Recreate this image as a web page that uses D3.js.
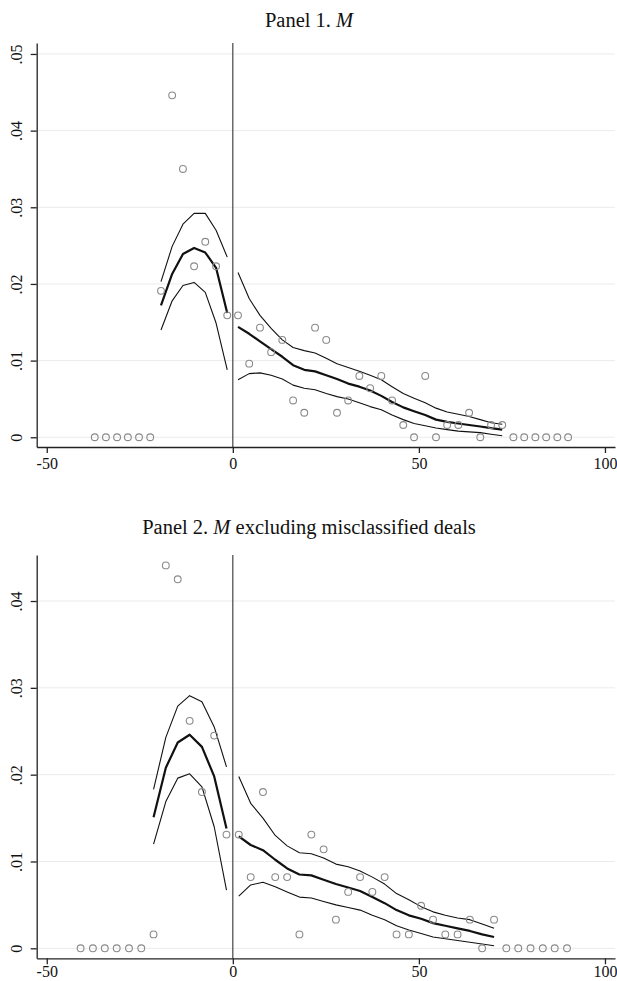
<!DOCTYPE html>
<html>
<head>
<meta charset="utf-8">
<script src="https://cdn.jsdelivr.net/npm/d3@7"></script>
<style>
  html, body { margin: 0; padding: 0; background: #fff; overflow: hidden; }
  svg { display: block; }
</style>
</head>
<body>
<script>
// ticks
var xTicks = [-50, 0, 50, 100];
var yTicks1 = [0, .01, .02, .03, .04, .05];
var yTicks2 = [0, .01, .02, .03, .04];

// panel 1 : binned shares
var p1BinX = [-37.1,-34.1,-31.1,-28.2,-25.2,-22.2,-19.3,-16.3,-13.4,-10.4,-7.4,-4.5,-1.5,
  1.4,4.4,7.3,10.3,13.3,16.2,19.2,22.1,25.1,28.0,31.0,34.0,36.9,39.9,42.8,45.8,48.7,
  51.7,54.6,57.6,60.6,63.5,66.5,69.4,72.4,75.4,78.3,81.3,84.2,87.2,90.1];
var p1Share = [0,0,0,0,0,0,.0191,.0446,.0350,.0223,.0255,.0223,.0159,
  .0159,.0096,.0143,.0111,.0127,.0048,.0032,.0143,.0127,.0032,.0048,.0080,.0064,.0080,.0048,.0016,0,
  .0080,0,.0016,.0016,.0032,0,.0016,.0016,0,0,0,0,0,0];

// panel 1 : fit left of cutoff
var p1LeftX = [-19.3,-16.3,-13.4,-10.4,-7.4,-4.5,-1.5];
var p1LeftFit = [.0172,.0213,.0239,.0247,.0241,.0221,.0162];
var p1LeftHi  = [.0203,.0249,.0278,.0292,.0292,.0270,.0235];
var p1LeftLo  = [.0140,.0178,.0198,.0202,.0189,.0149,.0088];

// panel 1 : fit right of cutoff
var p1RightX = [1.4,4.4,7.3,10.3,13.3,16.2,19.2,22.1,25.1,28.0,31.0,34.0,36.9,39.9,42.8,
  45.8,48.7,51.7,54.6,57.6,60.6,63.5,66.5,69.4,72.4];
var p1RightHi  = [.0215,.0181,.0159,.0142,.0127,.0117,.0113,.0110,.0103,.0096,.0091,.0086,.0081,
  .0075,.0066,.0057,.0051,.0045,.0038,.0033,.0030,.0027,.0023,.0019,.0017];
var p1RightFit = [.0144,.0135,.0125,.0115,.0105,.0094,.0088,.0086,.0081,.0076,.0070,.0066,.0061,
  .0054,.0046,.0039,.0034,.0029,.0023,.0020,.0018,.0016,.0014,.0012,.0010];
var p1RightLo  = [.0075,.0083,.0084,.0081,.0076,.0068,.0064,.0062,.0057,.0053,.0050,.0045,.0040,
  .0036,.0029,.0023,.0018,.0015,.0012,.0010,.0008,.0007,.0006,.0004,.0002];

// panel 2 : binned shares
var p2BinX = [-40.9,-37.6,-34.4,-31.2,-27.9,-24.6,-21.3,-18.0,-14.8,-11.6,-8.3,-5.0,-1.7,
  1.6,4.8,8.1,11.4,14.6,17.9,21.1,24.4,27.7,31.0,34.2,37.5,40.8,44.0,47.3,50.6,53.8,
  57.1,60.4,63.7,67.0,70.2,73.5,76.7,80.0,83.3,86.5,89.8];
var p2Share = [0,0,0,0,0,0,.0016,.0441,.0425,.0262,.0180,.0245,.0131,
  .0131,.0082,.0180,.0082,.0082,.0016,.0131,.0114,.0033,.0065,.0082,.0065,.0082,.0016,.0016,.0049,.0033,
  .0016,.0016,.0033,0,.0033,0,0,0,0,0,0];

var p2LeftX = [-21.3,-18.0,-14.8,-11.6,-8.3,-5.0,-1.7];
var p2LeftHi  = [.0183,.0243,.0279,.0291,.0284,.0255,.0209];
var p2LeftFit = [.0151,.0208,.0237,.0246,.0232,.0198,.0138];
var p2LeftLo  = [.0120,.0169,.0196,.0201,.0186,.0140,.0067];

var p2RightX = [1.6,4.8,8.1,11.4,14.6,17.9,21.1,24.4,27.7,31.0,34.2,37.5,40.8,44.0,47.3,
  50.6,53.8,57.1,60.4,63.7,67.0,70.2];
var p2RightHi  = [.0198,.0167,.0150,.0130,.0118,.0110,.0109,.0104,.0097,.0094,.0089,.0082,.0074,
  .0063,.0056,.0048,.0042,.0038,.0035,.0033,.0028,.0023];
var p2RightFit = [.0129,.0119,.0113,.0102,.0092,.0085,.0084,.0079,.0074,.0070,.0066,.0059,.0052,
  .0044,.0038,.0034,.0029,.0026,.0023,.0020,.0016,.0013];
var p2RightLo  = [.0060,.0073,.0076,.0071,.0065,.0059,.0058,.0054,.0050,.0047,.0044,.0038,.0033,
  .0026,.0021,.0017,.0013,.0011,.0009,.0007,.0005,.0003];

var W = 617, H = 981;
var serif = "'Liberation Serif', 'Times New Roman', Times, serif";

var svg = d3.select("body").append("svg")
    .attr("width", W)
    .attr("height", H);

var fmtY = d => d === 0 ? "0" : String(d).replace(/^0/, "");
var fmtX = d => String(d);

function zip(xs, ys) { return xs.map((x, i) => [x, ys[i]]); }

function drawPanel(p) {
  var x = d3.scaleLinear().domain([-52.7, 102.7]).range([p.left, p.right]);
  var y = d3.scaleLinear().domain(p.yDomain).range([p.bottom, p.top]);

  var g = svg.append("g");

  // title
  var t = g.append("text")
      .attr("x", 309)
      .attr("y", p.titleY)
      .attr("text-anchor", "middle")
      .style("font-family", serif)
      .style("font-size", "20.5px")
      .style("fill", "#111");
  t.append("tspan").text(p.title);
  t.append("tspan").style("font-style", "italic").text("M");
  if (p.title2) t.append("tspan").text(p.title2);

  // grid
  g.append("g").selectAll("line")
      .data(p.yTicks)
    .enter().append("line")
      .attr("x1", p.left).attr("x2", p.right)
      .attr("y1", d => y(d)).attr("y2", d => y(d))
      .attr("stroke", "#ebebeb")
      .attr("stroke-width", 1);

  // cutoff line
  g.append("line")
      .attr("x1", x(0)).attr("x2", x(0))
      .attr("y1", p.top).attr("y2", p.bottom)
      .attr("stroke", "#444")
      .attr("stroke-width", 1.2);

  // axes
  var ya = g.append("g")
      .attr("transform", "translate(" + p.left + ",0)")
      .call(d3.axisLeft(y).tickValues(p.yTicks).tickFormat(fmtY).tickSize(6).tickSizeOuter(0));
  ya.selectAll("text")
      .attr("transform", "rotate(-90)")
      .attr("x", 0).attr("y", -15).attr("dy", 0)
      .attr("text-anchor", "middle");

  var xa = g.append("g")
      .attr("transform", "translate(0," + p.bottom + ")")
      .call(d3.axisBottom(x).tickValues(xTicks).tickFormat(fmtX).tickSize(6).tickSizeOuter(0));
  xa.selectAll("text")
      .attr("y", p.xLabelY).attr("dy", 0);

  [ya, xa].forEach(a => {
    a.selectAll("text")
        .style("font-family", serif)
        .style("font-size", "16px")
        .style("fill", "#111");
    a.select(".domain").attr("stroke", "#222").attr("stroke-width", 1.3);
    a.selectAll(".tick line").attr("stroke", "#222").attr("stroke-width", 1.3);
  });

  // fitted lines
  var line = d3.line().x(d => x(d[0])).y(d => y(d[1]));
  p.lines.forEach(l => {
    g.append("path")
        .datum(zip(l.x, l.y))
        .attr("d", line)
        .attr("fill", "none")
        .attr("stroke", "#111")
        .attr("stroke-width", l.w)
        .attr("stroke-linejoin", "round");
  });

  // binned points
  g.append("g").selectAll("circle")
      .data(zip(p.binX, p.share))
    .enter().append("circle")
      .attr("cx", d => x(d[0]))
      .attr("cy", d => y(d[1]))
      .attr("r", 3.4)
      .attr("fill", "none")
      .attr("stroke", "#8a8a8a")
      .attr("stroke-width", 1.1);
}

drawPanel({
  title: "Panel 1. ", title2: "", titleY: 27,
  left: 36.7, right: 615, top: 43, bottom: 447, xLabelY: 21.5,
  yDomain: [-0.00127, 0.05143], yTicks: yTicks1,
  binX: p1BinX, share: p1Share,
  lines: [
    {x: p1LeftX, y: p1LeftHi, w: 1.1}, {x: p1LeftX, y: p1LeftFit, w: 2.2}, {x: p1LeftX, y: p1LeftLo, w: 1.1},
    {x: p1RightX, y: p1RightHi, w: 1.1}, {x: p1RightX, y: p1RightFit, w: 2.2}, {x: p1RightX, y: p1RightLo, w: 1.1}
  ]
});

drawPanel({
  title: "Panel 2. ", title2: " excluding misclassified deals", titleY: 534,
  left: 36.7, right: 615, top: 555, bottom: 958.3, xLabelY: 18.5,
  yDomain: [-0.00115, 0.0453], yTicks: yTicks2,
  binX: p2BinX, share: p2Share,
  lines: [
    {x: p2LeftX, y: p2LeftHi, w: 1.1}, {x: p2LeftX, y: p2LeftFit, w: 2.2}, {x: p2LeftX, y: p2LeftLo, w: 1.1},
    {x: p2RightX, y: p2RightHi, w: 1.1}, {x: p2RightX, y: p2RightFit, w: 2.2}, {x: p2RightX, y: p2RightLo, w: 1.1}
  ]
});
</script>
</body>
</html>
